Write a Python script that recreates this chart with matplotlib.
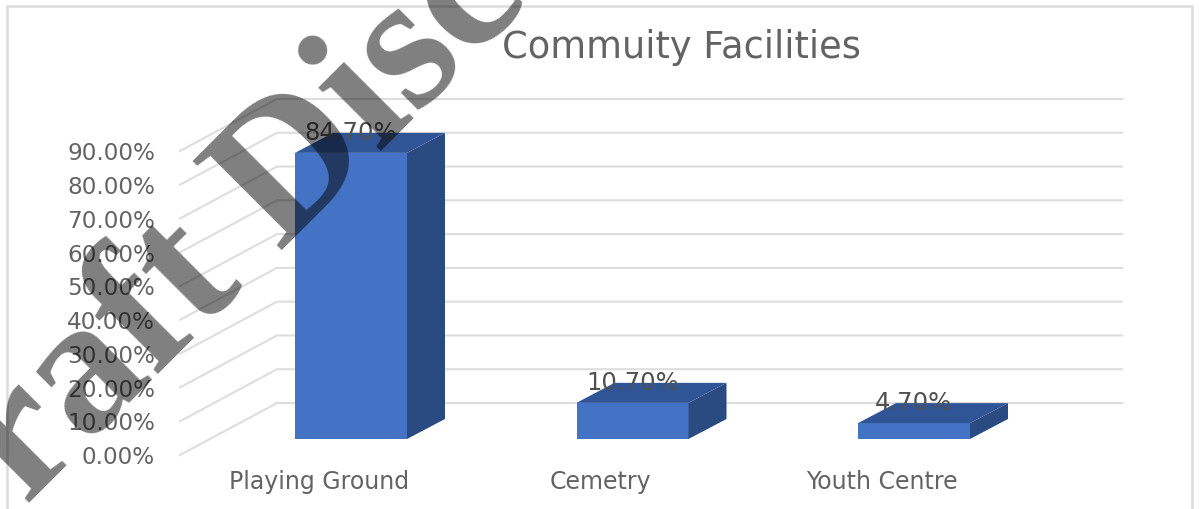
import matplotlib
matplotlib.use("Agg")
import matplotlib.pyplot as plt
from matplotlib.patches import Polygon, Rectangle

categories = ["Playing Ground", "Cemetry", "Youth Centre"]
values = [84.7, 10.7, 4.7]
value_labels = ["84.70%", "10.70%", "4.70%"]
ticks = [0, 10, 20, 30, 40, 50, 60, 70, 80, 90]
tick_labels = ["0.00%", "10.00%", "20.00%", "30.00%", "40.00%", "50.00%",
               "60.00%", "70.00%", "80.00%", "90.00%"]

W, H = 1199, 510
X0, XSTEP = 351, 281.5    # pixel of first bar centre, pixels per category
Y0, YSTEP = 440, 3.378    # pixel of value 0 on the bar face, pixels per percent

bar_w = 112 / XSTEP
depth_x = 38 / XSTEP
depth_y = 20 / YSTEP

text_col = "#636363"
grid_col = "#dddddd"

fig = plt.figure(figsize=(W / 100, H / 100), dpi=100)
ax = fig.add_axes([0, 0, 1, 1])
ax.set_xlim(-X0 / XSTEP, (W - X0) / XSTEP)
ax.set_ylim((Y0 - H) / YSTEP, Y0 / YSTEP)
ax.axis("off")

# chart frame
fig.add_artist(Rectangle((7 / W, -0.05), 1185 / W, 1.05 - 7 / H, fill=False,
                         ec="#dcdcdc", lw=1.8, transform=fig.transFigure))

# floor and back wall gridlines
wall_left = (180 - X0) / XSTEP
wall_bend = (277 - X0) / XSTEP
wall_right = (1122 - X0) / XSTEP
floor_off = -16 / YSTEP
back_off = 36 / YSTEP
for t, lab in zip(ticks, tick_labels):
    ax.plot([wall_left, wall_bend, wall_right],
            [t + floor_off, t + back_off, t + back_off],
            color=grid_col, lw=1.5, zorder=1, solid_joinstyle="round")
    ax.text((155 - X0) / XSTEP, t + floor_off - 0.5, lab, ha="right", va="center",
            fontsize=16.7, color=text_col, zorder=5)

# bars with a drawn depth
xs = list(range(len(values)))
ax.bar(xs, values, width=bar_w, color="#4472c4", zorder=3)
for x, v, lab, cat in zip(xs, values, value_labels, categories):
    r = x + bar_w / 2
    l = x - bar_w / 2
    ax.add_patch(Polygon([(r, 0), (r + depth_x, depth_y), (r + depth_x, v + depth_y), (r, v)],
                         closed=True, fc="#2a4a82", ec="none", zorder=3))
    ax.add_patch(Polygon([(l, v), (l + depth_x, v + depth_y), (r + depth_x, v + depth_y), (r, v)],
                         closed=True, fc="#2f5597", ec="none", zorder=3))
    ax.text(x, v + 6.3, lab, ha="center", va="center", fontsize=17.5,
            color="#505050", zorder=4)
    ax.text(x - 32 / XSTEP, -12.4, cat, ha="center", va="center", fontsize=17,
            color=text_col, zorder=5)

ax.text((681 - X0) / XSTEP, (Y0 - 47) / YSTEP, "Commuity Facilities", ha="center",
        va="center", fontsize=26.5, color=text_col, zorder=5)

# watermark running off the page
fig.text(-72 / W, 1 - 605 / H, "Draft Disc", family="Liberation Serif",
         weight="bold", fontsize=139, color="black", alpha=0.5, rotation=45,
         rotation_mode="anchor", ha="left", va="baseline", zorder=10)

fig.savefig("out.png", dpi=100)
